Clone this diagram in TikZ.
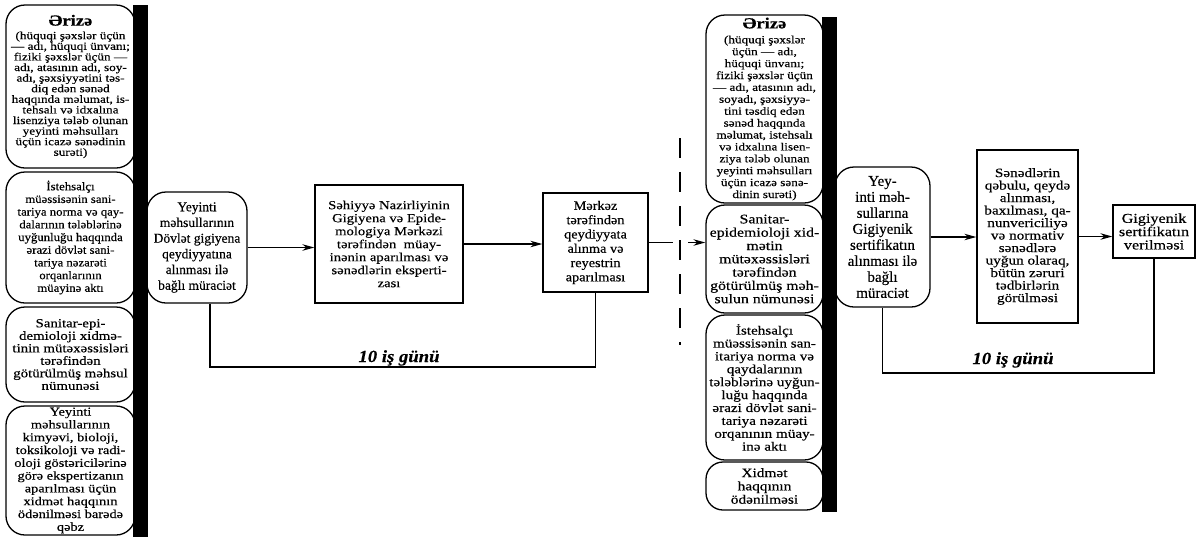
\documentclass[tikz,border=0pt]{standalone}
\usepackage{fontspec}
\setmainfont{Liberation Serif}[FakeBold=0.4]
\newfontfamily\fS{Liberation Serif}[FakeStretch=1.1,FakeBold=0.4]
\newfontfamily\fW{Liberation Serif}[FakeStretch=1.2,FakeBold=0.4]
\usetikzlibrary{arrows.meta}
\newcommand\ErizeTitle{{\fW\bfseries\fontsize{15.5}{17}\selectfont Ərizə}}
\tikzset{
  bx/.style={draw, line width=1.3pt, align=center, inner sep=0pt, text=black},
  rbx/.style={bx, rounded corners=19pt},
  arr/.style={line width=1.3pt, -{Stealth[length=12pt,width=6.5pt]}},
  ln/.style={line width=1.3pt},
  barbox/.style={fill=black, draw=none, inner sep=0pt, minimum width=15pt},
  lbl/.style={font=\fS\bfseries\itshape\fontsize{17}{19}\selectfont, anchor=base},
}
\begin{document}
\begin{tikzpicture}[x=1pt,y=-1pt]
\useasboundingbox (0,0) rectangle (1198,539);

% ---------- left column ----------
\node[rbx, minimum width=129pt, minimum height=163pt, font=\fW\fontsize{11}{10.6}\selectfont] (e1) at (70.5,86.5)
 {\ErizeTitle\\[3pt]
  (hüquqi şəxslər üçün\\
  — adı, hüquqi ünvanı;\\
  fiziki şəxslər üçün —\\
  adı, atasının adı, soy-\\
  adı, şəxsiyyətini təs-\\
  diq edən sənəd\\
  haqqında məlumat, is-\\
  tehsalı və idxalına\\
  lisenziya tələb olunan\\
  yeyinti məhsulları\\
  üçün icazə sənədinin\\
  surəti)};
\node[rbx, minimum width=129pt, minimum height=131pt, font=\fS\fontsize{11.6}{12.7}\selectfont] (e2) at (70.5,237.5)
 {İstehsalçı\\
  müəssisənin sani-\\
  tariya norma və qay-\\
  dalarının tələblərinə\\
  uyğunluğu haqqında\\
  ərazi dövlət sani-\\
  tariya nəzarəti\\
  orqanlarının\\
  müayinə aktı};
\node[rbx, minimum width=129pt, minimum height=95pt, font=\fW\fontsize{12.4}{12.5}\selectfont] (e3) at (70.5,354.5)
 {Sanitar-epi-\\
  demioloji xidmə-\\
  tinin mütəxəssisləri\\
  tərəfindən\\
  götürülmüş məhsul\\
  nümunəsi};
\node[rbx, minimum width=129pt, minimum height=129pt, font=\fW\fontsize{12}{12.8}\selectfont] (e4) at (70.5,470.5)
 {Yeyinti\\
  məhsullarının\\
  kimyəvi, bioloji,\\
  toksikoloji və radi-\\
  oloji göstəricilərinə\\
  görə ekspertizanın\\
  aparılması üçün\\
  xidmət haqqının\\
  ödənilməsi barədə\\
  qəbz};
\node[barbox, minimum height=532pt] (bar1) at (140.5,271) {};

\node[rbx, minimum width=100pt, minimum height=111pt, font=\fontsize{13.5}{15.7}\selectfont] (y1) at (197,247.5)
 {Yeyinti\\
  məhsullarının\\
  Dövlət gigiyena\\
  qeydiyyatına\\
  alınması ilə\\
  bağlı müraciət};
\node[bx, minimum width=148pt, minimum height=118pt, font=\fW\fontsize{12.2}{13}\selectfont] (s1) at (389,244)
 {Səhiyyə Nazirliyinin\\
  Gigiyena və Epide-\\
  mologiya Mərkəzi\\
  tərəfindən\ \ müay-\\
  inənin aparılması və\\
  sənədlərin eksperti-\\
  zası};
\node[bx, minimum width=105pt, minimum height=99pt, font=\fS\fontsize{13}{14.3}\selectfont] (mk) at (595.5,242.5)
 {Mərkəz\\
  tərəfindən\\
  qeydiyyata\\
  alınma və\\
  reyestrin\\
  aparılması};

\draw[arr] (y1.east) -- (y1.east -| s1.west);
\draw[arr] (s1.east) -- (s1.east -| mk.west);

\coordinate (fb1) at (210,367);
\draw[ln] (y1.south -| fb1) -- (fb1) -| (mk.south);
\node[lbl] (l1) at (399,362) {10 iş günü};

% ---------- transition ----------
\coordinate (gl) at (673,0);
\coordinate (gr) at (688,0);
\draw[ln] (mk.east) -- (mk.east -| gl);
\coordinate (d1) at (680,138);
\coordinate (d2) at (680,345);
\draw[ln, dash pattern=on 20pt off 14pt] (d1) -- (d2);

% ---------- right column ----------
\node[rbx, minimum width=117pt, minimum height=188pt, font=\fW\fontsize{11}{11.9}\selectfont] (e5) at (764.5,109)
 {\ErizeTitle\\[3pt]
  (hüquqi şəxslər\\
  üçün — adı,\\
  hüquqi ünvanı;\\
  fiziki şəxslər üçün\\
  — adı, atasının adı,\\
  soyadı, şəxsiyyə-\\
  tini təsdiq edən\\
  sənəd haqqında\\
  məlumat, istehsalı\\
  və idxalına lisen-\\
  ziya tələb olunan\\
  yeyinti məhsulları\\
  üçün icazə sənə-\\
  dinin surəti)};
\node[rbx, minimum width=117pt, minimum height=108pt, font=\fW\fontsize{13.2}{13.3}\selectfont] (e6) at (764.5,259)
 {Sanitar-\\
  epidemioloji xid-\\
  mətin\\
  mütəxəssisləri\\
  tərəfindən\\
  götürülmüş məh-\\
  sulun nümunəsi};
\node[rbx, minimum width=117pt, minimum height=145pt, font=\fW\fontsize{12.6}{12.9}\selectfont] (e7) at (764.5,387.5)
 {İstehsalçı\\
  müəssisənin san-\\
  itariya norma və\\
  qaydalarının\\
  tələblərinə uyğun-\\
  luğu haqqında\\
  ərazi dövlət sani-\\
  tariya nəzarəti\\
  orqanının müay-\\
  inə aktı};
\node[rbx, rounded corners=17pt, minimum width=117pt, minimum height=48pt, font=\fW\fontsize{12.8}{13.3}\selectfont] (e8) at (764.5,486)
 {Xidmət\\
  haqqının\\
  ödənilməsi};
\node[barbox, minimum height=495pt] (bar2) at (829.5,264.5) {};

\draw[arr] (mk.east -| gr) -- (mk.east -| e6.west);

\node[rbx, minimum width=95pt, minimum height=140pt, font=\fontsize{15}{16}\selectfont] (y2) at (882.5,237)
 {Yey-\\
  inti məh-\\
  sullarına\\
  Gigiyenik\\
  sertifikatın\\
  alınması ilə\\
  bağlı\\
  müraciət};
\node[bx, minimum width=101pt, minimum height=173pt, font=\fW\fontsize{12.7}{12.5}\selectfont] (sd) at (1027.5,236.5)
 {Sənədlərin\\
  qəbulu, qeydə\\
  alınması,\\
  baxılması, qa-\\
  nunvericiliyə\\
  və normativ\\
  sənədlərə\\
  uyğun olaraq,\\
  bütün zəruri\\
  tədbirlərin\\
  görülməsi};
\node[bx, minimum width=82pt, minimum height=53pt, font=\fW\fontsize{13.5}{13.3}\selectfont] (g2) at (1154,231.5)
 {Gigiyenik\\
  sertifikatın\\
  verilməsi};

\draw[arr] (y2.east) -- (y2.east -| sd.west);
\draw[arr] (sd.east) -- (sd.east -| g2.west);

\coordinate (fb2) at (882,373);
\draw[ln] (y2.south) -- (y2.south |- fb2) -| (g2.south);
\node[lbl] (l2) at (1013,364) {10 iş günü};
\end{tikzpicture}
\end{document}
